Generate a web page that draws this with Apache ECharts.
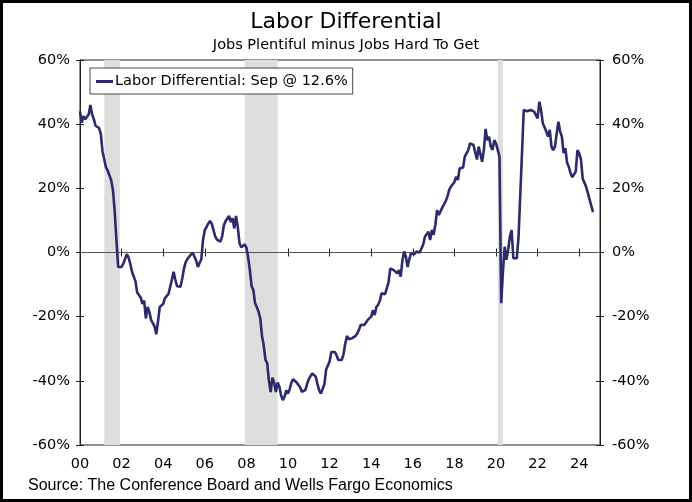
<!DOCTYPE html>
<html><head><meta charset="utf-8">
<script src="https://cdn.jsdelivr.net/npm/echarts@6/dist/echarts.min.js"></script>
<style>
html,body{margin:0;padding:0;background:#fff}
#c{position:absolute;left:0;top:0;width:692px;height:502px}
#frame{position:absolute;left:0;top:0;width:692px;height:502px;box-sizing:border-box;border:3px solid #000;pointer-events:none}
</style></head>
<body><div id="c"></div><div id="frame"></div>
<script>
const startYear = 2000;
const seriesLabel = 'Labor Differential';
const lastMonthName = 'Sep';
// Monthly labor differential (%), Jan 2000 – Sep 2024
const values = [
  44, 40.5, 42.5, 41.5, 42, 43, 46, 43, 41.5, 39.5, 39.8, 38.8,
  37, 31.5, 31, 26.5, 25.5, 25, 22.5, 19.5, 13, 4, -4.5, -4,
  -4.5, -3.5, -2, -0.5, -1.5, -3.5, -6, -7.5, -9, -12.5, -13, -14,
  -16, -15, -20.5, -17, -18.5, -21, -22, -23, -25.5, -21.5, -17, -17.3,
  -16, -14.2, -14, -13, -13.2, -8.5, -6, -8.5, -10.5, -11, -10.7, -8,
  -5, -3, -2, -1.3, -1.7, 0, 0.6, -2.5, -4.5, -4.5, -2, 4,
  7, 7.5, 9, 9.8, 9, 9.2, 5, 4, 4.5, 3.4, 5, 8.5,
  9.8, 10.1, 11.4, 9.5, 10.7, 7.5, 11.4, 8, 3, 1.6, 1.3, 2.5,
  1.5, -1.5, -5.5, -10.5, -11.7, -15.8, -17, -18.5, -20.5, -26, -29, -33.5,
  -34.5, -40, -43.5, -39, -40.5, -43.5, -40.5, -41.8, -44.5, -46, -45, -43,
  -44, -42.5, -40.5, -39.5, -39.2, -40.5, -41.3, -42, -43.4, -43, -42.9, -41,
  -39.5, -38.5, -37.7, -38, -38.7, -41, -43, -44, -43.9, -41, -36.5, -36.6,
  -34, -31, -31.5, -31, -32, -33.5, -33.5, -33.5, -31.8, -28.5, -26, -27,
  -27.5, -26.7, -26.7, -26, -25.2, -24, -22.5, -22.3, -22.6, -21.8, -21, -20.4,
  -20, -18, -19.5, -17, -16.3, -15, -12.7, -13.2, -13, -12.7, -9.3, -5,
  -4.7, -5.5, -6.1, -6.5, -5.5, -7.5, -2.5, 0.3, -1.3, -4.5, -2, -0.3,
  -0.8, -0.5, 0.3, 0.8, 0, 0.5, 2.5, 4.9, 4.4, 6.5, 3.9, 7,
  5.5, 8.6, 13.2, 11.7, 12.2, 14, 15, 16, 17.5, 19.5, 20.5, 21,
  22, 23.6, 22.6, 26.2, 25.8, 26.5, 29.9, 30.4, 31.9, 34, 34, 33.5,
  34, 29, 33, 33, 28.3, 32, 38.5, 35, 36.1, 33, 32, 35,
  34, 32, 29.9, -15.8, -6, 1.8, -2.3, 0.8, 4.9, 7, -1.8, -1.8,
  -1.8, 4.9, 18, 31, 44.4, 44.4, 44, 43.4, 44.4, 44, 43.9, 44.5,
  41.8, 47, 44.4, 40.3, 39.7, 37.7, 36.1, 38.2, 33, 31.9, 33, 37,
  40.8, 37.7, 36.1, 31, 32.5, 28, 26.7, 24.7, 23.5, 23.1, 25.2, 31.9,
  30.9, 29, 23.1, 22.6, 20.5, 18.5, 16.5, 14.5, 12.6
];
// NBER recessions (start month, end month)
const recessions = [['2001-03', '2001-11'], ['2007-12', '2009-06'], ['2020-02', '2020-04']];
const xMin = 2000, xMax = 2025, xStep = 2;
const yMin = -60, yMax = 60, yStep = 20;
const sourceText = 'Source: The Conference Board and Wells Fargo Economics';

function ym(s, endOfMonth) {
  const [y, m] = s.split('-').map(Number);
  return y + (m - 1 + (endOfMonth ? 1 : 0)) / 12;
}
const points = values.map((v, i) => [startYear + i / 12, v]);
const legendName = seriesLabel + ': ' + lastMonthName + ' @ ' + values[values.length - 1].toFixed(1) + '%';

const chart = echarts.init(document.getElementById('c'), null, {renderer: 'canvas'});
const FONT = 'DejaVu Sans';
const LBL = 14.5;
const yBase = {
  type: 'value', min: yMin, max: yMax, interval: yStep,
  splitLine: {show: false}
};
const xBase = {
  type: 'value', min: xMin, max: xMax, interval: xStep,
  splitLine: {show: false}
};
chart.setOption({
  animation: false,
  backgroundColor: '#fff',
  title: {
    text: 'Labor Differential',
    subtext: 'Jobs Plentiful minus Jobs Hard To Get',
    left: 'center', top: 6,
    itemGap: 5,
    textStyle: {fontFamily: FONT, fontSize: 22, fontWeight: 'normal', color: '#000'},
    subtextStyle: {fontFamily: FONT, fontSize: 14.5, color: '#000'}
  },
  legend: {
    left: 90, top: 68,
    padding: [6, 5, 5, 6],
    borderColor: '#444', borderWidth: 1, backgroundColor: '#fff',
    itemWidth: 17, itemHeight: 3, itemGap: 0,
    icon: 'rect',
    textStyle: {fontFamily: FONT, fontSize: LBL, color: '#000', padding: [0, 0, 0, -3]},
    data: [legendName]
  },
  grid: {left: 80, right: 92, top: 60, bottom: 57, show: true, borderColor: '#222', borderWidth: 1, backgroundColor: 'transparent'},
  xAxis: [
    Object.assign({}, xBase, {
      position: 'bottom',
      axisLine: {show: true, lineStyle: {color: '#222', width: 1}},
      axisTick: {show: true, inside: false, length: 4, lineStyle: {color: '#222'}},
      axisLabel: {
        margin: 12, fontFamily: FONT, fontSize: LBL, color: '#000',
        formatter: v => v >= xMax ? '' : String(v % 100).padStart(2, '0')
      }
    }),
    Object.assign({}, xBase, {
      position: 'bottom',
      axisLine: {show: false},
      axisTick: {show: true, inside: true, length: 4, lineStyle: {color: '#222'}},
      axisLabel: {show: false}
    })
  ],
  yAxis: [
    Object.assign({}, yBase, {
      position: 'left',
      axisLine: {show: true, lineStyle: {color: '#222'}},
      axisTick: {show: true, inside: false, length: 4, lineStyle: {color: '#222'}},
      axisLabel: {margin: 10, fontFamily: FONT, fontSize: LBL, color: '#000', formatter: v => v + '%'}
    }),
    Object.assign({}, yBase, {
      position: 'right',
      axisLine: {show: true, lineStyle: {color: '#222'}},
      axisTick: {show: true, inside: false, length: 4, lineStyle: {color: '#222'}},
      axisLabel: {margin: 12, fontFamily: FONT, fontSize: LBL, color: '#000', formatter: v => v + '%'}
    }),
    Object.assign({}, yBase, {
      position: 'left',
      axisLine: {show: false},
      axisTick: {show: true, inside: true, length: 4, lineStyle: {color: '#222'}},
      axisLabel: {show: false}
    }),
    Object.assign({}, yBase, {
      position: 'right',
      axisLine: {show: false},
      axisTick: {show: true, inside: true, length: 4, lineStyle: {color: '#222'}},
      axisLabel: {show: false}
    })
  ],
  series: [
    {
      name: 'shade', type: 'line', data: [], z: 1,
      markArea: {
        silent: true,
        itemStyle: {color: '#dedede'},
        data: recessions.map(r => [{xAxis: ym(r[0], false)}, {xAxis: ym(r[1], true)}])
      },
      markLine: {
        silent: true, symbol: 'none', label: {show: false},
        lineStyle: {color: '#555', width: 1, type: 'solid'},
        data: [{yAxis: 0}]
      }
    },
    {
      name: legendName, type: 'line', data: points, z: 5,
      showSymbol: false, symbol: 'none',
      lineStyle: {color: '#2c2a6c', width: 2.6},
      itemStyle: {color: '#2c2a6c'}
    }
  ],
  graphic: [{
    type: 'text', left: 28, top: 478,
    style: {text: sourceText, font: '16px "Liberation Sans"', fill: '#000'}
  }]
});
</script>
</body></html>
